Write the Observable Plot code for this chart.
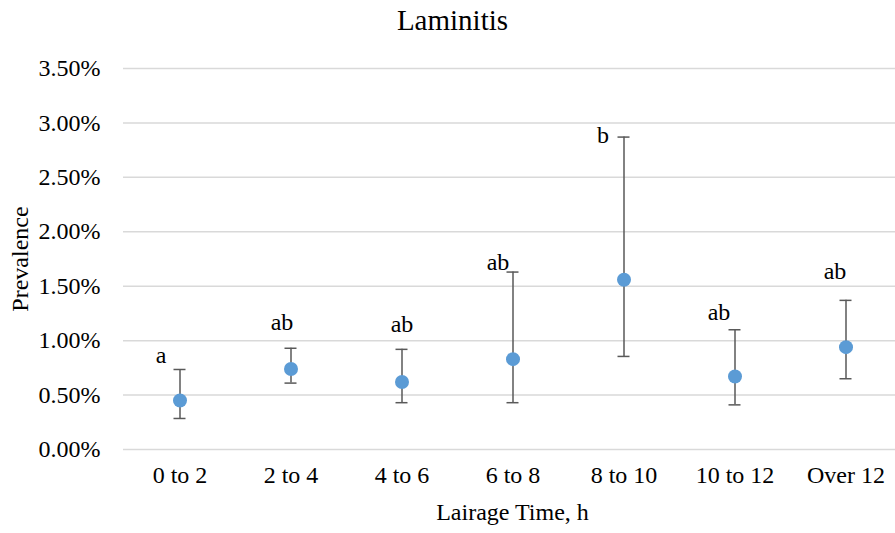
<!DOCTYPE html>
<html>
<head>
<meta charset="utf-8">
<script src="https://cdn.jsdelivr.net/npm/d3@7"></script>
<script src="https://cdn.jsdelivr.net/npm/@observablehq/plot@0.6"></script>
<style>
  html, body { margin: 0; padding: 0; background: #fff; }
  #title { width: 895px; height: 40px; text-align: center; font-family: 'Liberation Serif', Tinos, 'Times New Roman', 'DejaVu Serif', serif; font-size: 29px; line-height: 40px; color: #000; padding-left: 10px; box-sizing: border-box; }
  #chart svg { display: block; font-family: 'Liberation Serif', Tinos, 'Times New Roman', 'DejaVu Serif', serif !important; }
  #chart svg text { font-family: 'Liberation Serif', Tinos, 'Times New Roman', 'DejaVu Serif', serif !important; }
</style>
</head>
<body>
<div id="title">Laminitis</div>
<div id="chart"></div>
<script>
const categories = ["0 to 2", "2 to 4", "4 to 6", "6 to 8", "8 to 10", "10 to 12", "Over 12"];
const prevalence = [0.45, 0.74, 0.62, 0.83, 1.56, 0.67, 0.94];
const upper = [0.735, 0.93, 0.92, 1.63, 2.87, 1.10, 1.37];
const lower = [0.285, 0.61, 0.43, 0.43, 0.855, 0.41, 0.65];
const letters = ["a", "ab", "ab", "ab", "b", "ab", "ab"];
const letterY = [0.864, 1.167, 1.149, 1.719, 2.886, 1.259, 1.636];
const yTicks = [0, 0.5, 1, 1.5, 2, 2.5, 3, 3.5];

const data = categories.map((c, i) => ({
  cat: c, value: prevalence[i], hi: upper[i], lo: lower[i], letter: letters[i], ly: letterY[i]
}));
const letterDx = [-19, -9, 0, -15, -21, -16, -11];

const chart = Plot.plot({
  width: 895,
  height: 493,
  marginLeft: 123,
  marginRight: -6,
  marginTop: 28,
  marginBottom: 84,
  style: { fontSize: "24px" },
  x: { domain: categories, padding: 0, label: null },
  y: { domain: [0, 3.5], label: null },
  marks: [
    Plot.ruleY(yTicks, { stroke: "#D9D9D9", strokeWidth: 1.5 }),
    Plot.axisY(yTicks, { tickSize: 0, tickPadding: 23, tickFormat: d => d.toFixed(2) + "%", fontSize: 24, fill: "#000", label: null }),
    Plot.axisX({ tickSize: 0, tickPadding: 16, fontSize: 24, fill: "#000", label: null }),
    Plot.text(["Lairage Time, h"], { frameAnchor: "bottom", dy: 70, fontSize: 24, fill: "#000", textAnchor: "middle" }),
    Plot.text(["Prevalence"], { frameAnchor: "left", dx: -103, rotate: -90, fontSize: 24, fill: "#000", textAnchor: "middle" }),
    Plot.ruleX(data, { x: "cat", y1: "lo", y2: "hi", stroke: "#595959", strokeWidth: 1.5 }),
    Plot.tickY(data, { x: "cat", y: "hi", stroke: "#595959", strokeWidth: 1.5, insetLeft: 49.5, insetRight: 49.5 }),
    Plot.tickY(data, { x: "cat", y: "lo", stroke: "#595959", strokeWidth: 1.5, insetLeft: 49.5, insetRight: 49.5 }),
    Plot.dot(data, { x: "cat", y: "value", r: 7, fill: "#5B9BD5", stroke: "none" }),
    Plot.text(data, {
      x: "cat", y: "ly", text: "letter", fontSize: 24, fill: "#000",
      render(index, scales, values, dimensions, context, next) {
        const g = next(index, scales, values, dimensions, context);
        const texts = g.querySelectorAll("text");
        Array.from(index).forEach((idx, k) => {
          texts[k].setAttribute("x", +texts[k].getAttribute("x") + letterDx[idx]);
        });
        return g;
      }
    })
  ]
});
document.getElementById("chart").appendChild(chart);
</script>
</body>
</html>
